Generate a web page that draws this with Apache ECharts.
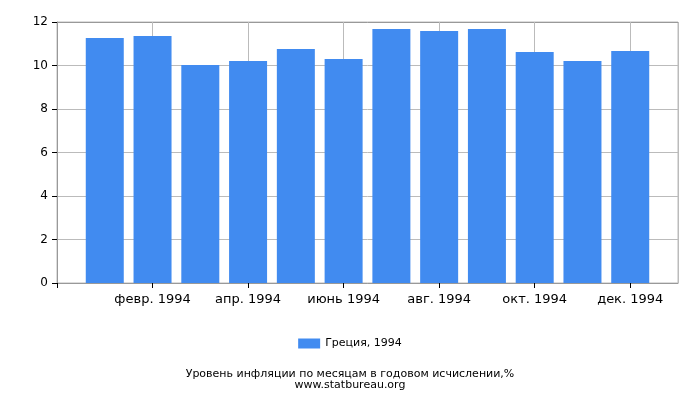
<!DOCTYPE html>
<html>
<head>
<meta charset="utf-8">
<script src="https://cdn.jsdelivr.net/npm/echarts@6/dist/echarts.min.js"></script>
<style>
  html, body { margin: 0; padding: 0; background: #fff; }
  #chart { width: 700px; height: 400px; }
</style>
</head>
<body>
<div id="chart"></div>
<script>
var months = ['янв. 1994', 'февр. 1994', 'март 1994', 'апр. 1994', 'май 1994', 'июнь 1994',
	'июль 1994', 'авг. 1994', 'сент. 1994', 'окт. 1994', 'нояб. 1994', 'дек. 1994'];
var values = [11.26, 11.36, 10.02, 10.21, 10.76, 10.30, 11.68, 11.59, 11.68, 10.62, 10.21, 10.67];
var seriesName = 'Греция, 1994';
var caption = 'Уровень инфляции по месяцам в годовом исчислении,%\nwww.statbureau.org';

var font = 'DejaVu Sans';

var option = {
	animation: false,
	textStyle: { fontFamily: font },
	title: {
		text: caption,
		left: 'center',
		top: 364,
		textStyle: { fontFamily: font, fontSize: 11, fontWeight: 'normal', color: '#000', lineHeight: 11 }
	},
	legend: {
		data: [seriesName],
		top: 333,
		left: 'center',
		icon: 'rect',
		itemWidth: 22,
		itemHeight: 10,
		itemGap: 4,
		textStyle: { fontFamily: font, fontSize: 11, color: '#000' }
	},
	grid: { left: 57, right: 22, top: 22, bottom: 117, show: true, borderColor: '#bbb', borderWidth: 1 },
	xAxis: {
		type: 'value',
		min: 0,
		max: 13,
		interval: 2,
		axisLine: { show: true, onZero: false, lineStyle: { color: '#999' } },
		axisTick: { show: true, length: 5, lineStyle: { color: '#000' } },
		splitLine: { show: true, lineStyle: { color: '#bbb' } },
		axisLabel: {
			fontSize: 13,
			color: '#000',
			margin: 10,
			showMaxLabel: false,
			formatter: function(v) { return months[v - 1] || ''; }
		}
	},
	yAxis: {
		type: 'value',
		min: 0,
		max: 12,
		interval: 2,
		axisLine: { show: true, lineStyle: { color: '#999' } },
		axisTick: { show: true, length: 5, lineStyle: { color: '#000' } },
		splitLine: { show: true, lineStyle: { color: ['#bbb', '#bbb', '#bbb', '#bbb', '#bbb', '#bbb', '#999'] } },
		axisLabel: { fontSize: 12, color: '#000', margin: 9 }
	},
	series: [{
		name: seriesName,
		type: 'bar',
		barWidth: 38,
		itemStyle: { color: '#418bf0' },
		data: values.map(function(v, i) { return [i + 1, v]; })
	}]
};

var chart = echarts.init(document.getElementById('chart'));
chart.setOption(option);
</script>
</body>
</html>
